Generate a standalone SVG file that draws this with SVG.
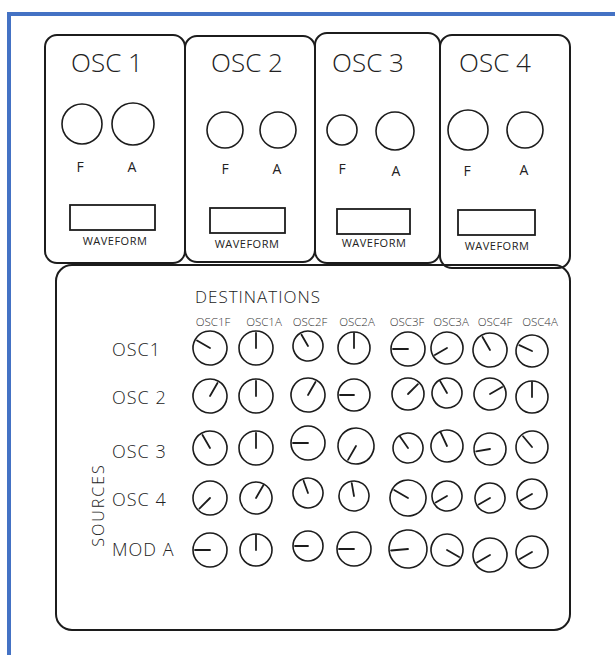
<svg xmlns="http://www.w3.org/2000/svg" width="615" height="655" viewBox="0 0 615 655">
<style>
  .frame{fill:none;stroke:#4472C4;stroke-width:4}
  .panel{fill:none;stroke:#1c1c1c;stroke-width:2;stroke-linejoin:round}
  .knob circle{fill:none;stroke:#1c1c1c;stroke-width:1.6}
  .knob line{stroke:#1c1c1c;stroke-width:1.8;stroke-linecap:round}
  .oknob{fill:none;stroke:#1c1c1c;stroke-width:1.6}
  .wf{fill:none;stroke:#1c1c1c;stroke-width:1.8}
  text{font-family:"Open Sans","Liberation Sans","DejaVu Sans",sans-serif;fill:#222}
  .title{font-size:26px;text-anchor:middle;font-weight:300}
  .fa{font-size:14px;text-anchor:middle}
  .wft{font-size:11px;text-anchor:middle;letter-spacing:0.5px}
  .dest{font-size:17px;letter-spacing:1px;font-weight:300}
  .col{font-size:11.5px;text-anchor:middle;fill:#333;font-weight:300}
  .row{font-size:18px;letter-spacing:1px;font-weight:300}
  .src{font-size:16px;letter-spacing:2px;text-anchor:middle;font-weight:300}
</style>
<rect class="frame" x="9" y="14" width="640" height="680"/>

<g id="osc1">
  <rect class="panel" x="45" y="35" width="140" height="228" rx="12"/>
  <text class="title" x="107" y="72">OSC 1</text>
  <circle class="oknob" cx="82" cy="124" r="20"/>
  <circle class="oknob" cx="133" cy="124" r="21"/>
  <text class="fa" x="80" y="172">F</text>
  <text class="fa" x="132" y="172">A</text>
  <rect class="wf" x="70" y="205" width="85" height="25"/>
  <text class="wft" x="115" y="245">WAVEFORM</text>
</g>
<g id="osc2">
  <rect class="panel" x="185" y="36" width="130" height="226" rx="12"/>
  <text class="title" x="247" y="72">OSC 2</text>
  <circle class="oknob" cx="225" cy="130" r="18"/>
  <circle class="oknob" cx="278" cy="130" r="18"/>
  <text class="fa" x="225" y="174">F</text>
  <text class="fa" x="277" y="174">A</text>
  <rect class="wf" x="210" y="208" width="75" height="25"/>
  <text class="wft" x="247" y="248">WAVEFORM</text>
</g>
<g id="osc3">
  <rect class="panel" x="315" y="33" width="125" height="230" rx="12"/>
  <text class="title" x="368" y="72">OSC 3</text>
  <circle class="oknob" cx="342" cy="130" r="15"/>
  <circle class="oknob" cx="395" cy="131" r="19"/>
  <text class="fa" x="342" y="174">F</text>
  <text class="fa" x="396" y="176">A</text>
  <rect class="wf" x="337" y="209" width="73" height="25"/>
  <text class="wft" x="374" y="247">WAVEFORM</text>
</g>
<g id="osc4">
  <rect class="panel" x="440" y="35" width="130" height="233" rx="12"/>
  <text class="title" x="495" y="72">OSC 4</text>
  <circle class="oknob" cx="468" cy="130" r="20"/>
  <circle class="oknob" cx="525" cy="130" r="18"/>
  <text class="fa" x="467" y="176">F</text>
  <text class="fa" x="524" y="175">A</text>
  <rect class="wf" x="458" y="210" width="77" height="25"/>
  <text class="wft" x="497" y="250">WAVEFORM</text>
</g>

<g id="matrix">
  <rect class="panel" x="56" y="265" width="514" height="365" rx="16"/>
  <text class="dest" x="195" y="303">DESTINATIONS</text>
  <text class="col" x="213" y="326">OSC1F</text>
  <text class="col" x="264" y="326">OSC1A</text>
  <text class="col" x="310" y="326">OSC2F</text>
  <text class="col" x="357" y="326">OSC2A</text>
  <text class="col" x="407" y="326">OSC3F</text>
  <text class="col" x="451" y="326">OSC3A</text>
  <text class="col" x="495" y="326">OSC4F</text>
  <text class="col" x="540" y="326">OSC4A</text>
  <text class="row" x="112" y="356">OSC1</text>
  <text class="row" x="112" y="404">OSC 2</text>
  <text class="row" x="112" y="458">OSC 3</text>
  <text class="row" x="112" y="506">OSC 4</text>
  <text class="row" x="112" y="556">MOD A</text>
  <text class="src" transform="translate(104,505) rotate(-90)">SOURCES</text>

  <g id="row1">
    <g class="knob" transform="translate(210,348) rotate(-150)"><circle r="17"/><line x2="15"/></g>
    <g class="knob" transform="translate(256,348) rotate(-90)"><circle r="17"/><line x2="15"/></g>
    <g class="knob" transform="translate(308,346) rotate(-120)"><circle r="15"/><line x2="13"/></g>
    <g class="knob" transform="translate(354,348) rotate(-90)"><circle r="16"/><line x2="15"/></g>
    <g class="knob" transform="translate(408,349) rotate(180)"><circle r="17"/><line x2="15"/></g>
    <g class="knob" transform="translate(447,348) rotate(150)"><circle r="16"/><line x2="14"/></g>
    <g class="knob" transform="translate(490,350) rotate(-120)"><circle r="17"/><line x2="15"/></g>
    <g class="knob" transform="translate(532,351) rotate(-155)"><circle r="16"/><line x2="14"/></g>
  </g>
  <g id="row2">
    <g class="knob" transform="translate(210,396) rotate(-60)"><circle r="17"/><line x2="15"/></g>
    <g class="knob" transform="translate(256,396) rotate(-90)"><circle r="17"/><line x2="15"/></g>
    <g class="knob" transform="translate(308,395) rotate(-60)"><circle r="17"/><line x2="15"/></g>
    <g class="knob" transform="translate(354,395) rotate(180)"><circle r="16"/><line x2="14"/></g>
    <g class="knob" transform="translate(408,394) rotate(-45)"><circle r="16"/><line x2="14"/></g>
    <g class="knob" transform="translate(447,393) rotate(-120)"><circle r="15"/><line x2="14"/></g>
    <g class="knob" transform="translate(490,394) rotate(-30)"><circle r="16"/><line x2="14"/></g>
    <g class="knob" transform="translate(532,397) rotate(-90)"><circle r="16"/><line x2="15"/></g>
  </g>
  <g id="row3">
    <g class="knob" transform="translate(210,448) rotate(-120)"><circle r="17"/><line x2="15"/></g>
    <g class="knob" transform="translate(256,448) rotate(-90)"><circle r="17"/><line x2="15"/></g>
    <g class="knob" transform="translate(308,443) rotate(180)"><circle r="17"/><line x2="15"/></g>
    <g class="knob" transform="translate(356,446) rotate(120)"><circle r="18"/><line x2="16"/></g>
    <g class="knob" transform="translate(408,448) rotate(-125)"><circle r="15"/><line x2="14"/></g>
    <g class="knob" transform="translate(447,446) rotate(-115)"><circle r="16"/><line x2="15"/></g>
    <g class="knob" transform="translate(490,449) rotate(170)"><circle r="16"/><line x2="14"/></g>
    <g class="knob" transform="translate(532,447) rotate(-130)"><circle r="16"/><line x2="14"/></g>
  </g>
  <g id="row4">
    <g class="knob" transform="translate(210,498) rotate(135)"><circle r="17"/><line x2="15"/></g>
    <g class="knob" transform="translate(256,498) rotate(-60)"><circle r="16"/><line x2="15"/></g>
    <g class="knob" transform="translate(308,493) rotate(-110)"><circle r="15"/><line x2="13"/></g>
    <g class="knob" transform="translate(354,496) rotate(-100)"><circle r="15"/><line x2="13"/></g>
    <g class="knob" transform="translate(408,498) rotate(-150)"><circle r="18"/><line x2="16"/></g>
    <g class="knob" transform="translate(447,496) rotate(150)"><circle r="15"/><line x2="13"/></g>
    <g class="knob" transform="translate(490,498) rotate(150)"><circle r="15"/><line x2="13"/></g>
    <g class="knob" transform="translate(532,494) rotate(150)"><circle r="15"/><line x2="13"/></g>
  </g>
  <g id="row5">
    <g class="knob" transform="translate(210,550) rotate(180)"><circle r="17"/><line x2="15"/></g>
    <g class="knob" transform="translate(256,550) rotate(-90)"><circle r="16"/><line x2="15"/></g>
    <g class="knob" transform="translate(308,546) rotate(180)"><circle r="15"/><line x2="13"/></g>
    <g class="knob" transform="translate(354,549) rotate(180)"><circle r="17"/><line x2="15"/></g>
    <g class="knob" transform="translate(408,549) rotate(175)"><circle r="19"/><line x2="17"/></g>
    <g class="knob" transform="translate(447,550) rotate(30)"><circle r="16"/><line x2="14"/></g>
    <g class="knob" transform="translate(490,555) rotate(150)"><circle r="17"/><line x2="15"/></g>
    <g class="knob" transform="translate(532,552) rotate(150)"><circle r="16"/><line x2="14"/></g>
  </g>
</g>
</svg>
